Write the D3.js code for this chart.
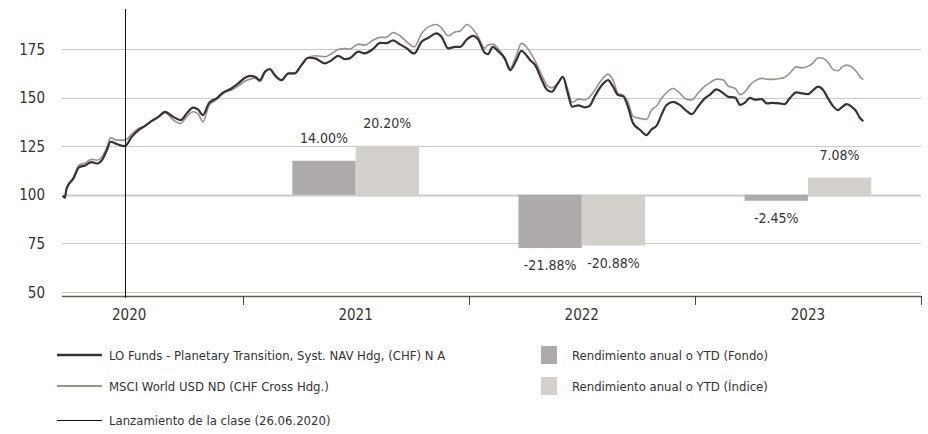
<!DOCTYPE html>
<html><head><meta charset="utf-8">
<script src="https://cdn.jsdelivr.net/npm/d3@7"></script>
<style>
html,body{margin:0;padding:0;background:#fff;}
svg{display:block;}
text{fill:#333;}
</style></head>
<body><svg id="c" width="928" height="434"></svg>
<script>
const dates = ["2020-03-17","2020-03-20","2020-03-23","2020-04-03","2020-04-12","2020-04-22","2020-05-02","2020-05-11","2020-05-19","2020-05-27",
"2020-06-02","2020-06-12","2020-06-25","2020-07-06","2020-07-17","2020-07-27","2020-08-07","2020-08-18","2020-08-29","2020-09-11",
"2020-09-23","2020-10-03","2020-10-13","2020-10-21","2020-10-29","2020-11-08","2020-11-20","2020-12-01","2020-12-14","2020-12-25",
"2021-01-05","2021-01-13","2021-01-21","2021-01-29","2021-02-06","2021-02-14","2021-02-22","2021-03-05","2021-03-16","2021-03-26",
"2021-04-06","2021-04-17","2021-04-28","2021-05-14","2021-05-25","2021-06-04","2021-06-15","2021-06-23","2021-07-07","2021-07-17",
"2021-07-31","2021-08-11","2021-08-21","2021-09-01","2021-09-12","2021-09-23","2021-10-05","2021-10-17","2021-10-28","2021-11-10",
"2021-11-18","2021-11-29","2021-12-10","2021-12-18","2021-12-29","2022-01-08","2022-01-16","2022-01-27","2022-02-01","2022-02-09",
"2022-02-17","2022-02-28","2022-03-09","2022-03-19","2022-03-27","2022-04-04","2022-04-10","2022-04-18","2022-04-29","2022-05-07",
"2022-05-15","2022-05-25","2022-06-02","2022-06-10","2022-06-17","2022-06-27","2022-07-07","2022-07-15","2022-07-23","2022-08-02",
"2022-08-14","2022-08-22","2022-08-30","2022-09-07","2022-09-15","2022-09-23","2022-10-04","2022-10-15","2022-10-23","2022-11-01",
"2022-11-08","2022-11-16","2022-11-27","2022-12-08","2022-12-19","2022-12-27","2023-01-06","2023-01-17","2023-01-25","2023-02-05",
"2023-02-16","2023-02-24","2023-03-07","2023-03-15","2023-03-23","2023-03-31","2023-04-08","2023-04-19","2023-04-27","2023-05-07",
"2023-05-18","2023-05-26","2023-06-03","2023-06-14","2023-06-22","2023-07-03","2023-07-11","2023-07-19","2023-07-27","2023-08-04",
"2023-08-12","2023-08-20","2023-08-26","2023-09-03","2023-09-11","2023-09-19","2023-09-24","2023-09-30"];
const fund = [99.5,98.4,103.3,108.4,114.1,115.1,116.8,116.1,117.8,123,
127.3,126.1,125,129.8,133.3,135.3,137.9,140.1,142.7,140.1,
138.4,141.9,144.8,143.9,141,147.3,149.6,152.7,154.7,157.3,
160.2,161.2,160.7,159,163.3,164.7,161.6,159,162.5,162.5,
166.7,170.5,170.2,167.6,169.3,171.5,169.8,170.2,173.6,172.8,
175.1,178.2,178,179.4,177.4,175.3,172.7,178.7,180.8,183,
181.3,175.3,176.1,176.1,179.9,181.8,180.1,173,172.4,176.1,
174,170.2,164.1,169.3,174.1,171.8,169.3,166.8,159,154.2,
153,157.3,160.7,152.2,145.3,146,145,145.7,150.4,155.6,
159,155.6,151.3,150.8,145.3,137,133.6,130.7,133.6,135.9,
141,146.1,147.8,146.1,143,141.5,145.3,149.6,151.4,154.2,
152.2,150.4,150,146.3,147.4,149.9,149,149.2,147,147.3,
147,146.6,149.6,152.7,152.2,151.8,153.9,155.6,153.9,149.6,
145.6,143.6,145,146.6,145.3,142.7,139.7,137.9];
const msci = [99.5,98.6,103.8,109,115.3,116.3,118.2,117.8,119.5,124.4,
129.3,128.1,128.1,131.2,134.2,135.3,137.9,140,142.2,138.5,
136.7,140.2,142.7,141.8,137.5,146,149,152.2,153.9,155.9,
158.5,159.5,160,158.2,162.8,164.5,161.2,158.8,162.3,162.5,
166.8,170.6,171.5,171,172.7,174.7,175.2,175,177.5,177,
179.6,181,181,183.5,181.8,178.7,176.1,183,186.4,187.6,
185.9,181.8,183.8,184.2,187.6,185.2,181.5,175.4,177,177.5,
175.4,170.7,165.3,171.8,177.9,176.2,173.5,169,161.5,156.5,
155,157.5,160.7,154,147.5,149.2,148.8,150.4,153.5,158.5,
162.1,159,152.2,151.3,148,140.5,139.3,138.8,143.5,146,
149.5,152.5,154.7,152.2,149,148.8,152.2,155.9,157.6,159.5,
159,155.9,154.7,151.5,153,156.4,158.6,159.9,159.5,159.4,
159.8,160.5,162.5,165.8,165.3,166.2,167.9,170.5,170.2,168,
164.5,163.8,165.5,166.7,165.8,163.3,161,159.2];

const yTicks = [50,75,100,125,150,175];
const yearLabels = ["2020","2021","2022","2023"];
const barYears = ["2021","2022","2023"];
const retFondo = [14.00,-21.88,-2.45];
const retIndice = [20.20,-20.88,7.08];
const launchDate = "2020-06-26";

const seriesNames = ["LO Funds - Planetary Transition, Syst. NAV Hdg, (CHF) N A","MSCI World USD ND (CHF Cross Hdg.)"];
const barNames = ["Rendimiento anual o YTD (Fondo)","Rendimiento anual o YTD (Índice)"];
const launchName = "Lanzamiento de la clase (26.06.2020)";

const C = {fund:"#3a3131", msci:"#9c928b", barF:"#aeaaa9", barI:"#d4d0cc", grid:"#cacaca", axis:"#5d5e45"};
const NARROW = "'DejaVu Sans Condensed','Liberation Sans Narrow','Arial Narrow',sans-serif";

const parse = d3.timeParse("%Y-%m-%d");
const svg = d3.select("#c");
const left = 62, right = 921;
const x = d3.scaleTime().domain([new Date(2020,0,1), new Date(2024,0,1)]).range([15.8, 921]);
const y = d3.scaleLinear().domain([50,175]).range([292,49]);
const yb = d3.scaleLinear().domain([-40,60]).range([292,49]);

// gridlines
svg.append("g").selectAll("line").data(yTicks).join("line")
  .attr("x1", left).attr("x2", right)
  .attr("y1", d=>Math.round(y(d))+0.5).attr("y2", d=>Math.round(y(d))+0.5)
  .attr("stroke", C.grid).attr("stroke-width", d=> d===100 ? 2 : 1);

// y labels
svg.append("g").selectAll("text").data(yTicks).join("text")
  .attr("x", 45).attr("y", d=>y(d)+5.5)
  .attr("text-anchor","end").attr("font-family", NARROW).attr("font-size",15)
  .text(d=>d);

// bars
const yrStart = s => new Date(+s,0,1), yrEnd = s => new Date(+s+1,0,1);
const mid = s => (x(yrStart(s))+x(yrEnd(s)))/2;
const bw = s => (x(yrEnd(s))-x(yrStart(s)))*0.28;
const bars = [];
barYears.forEach((yr,i)=>{
  bars.push({yr, v:retFondo[i], side:-1, c:C.barF});
  bars.push({yr, v:retIndice[i], side:0, c:C.barI});
});
svg.append("g").selectAll("rect").data(bars).join("rect")
  .attr("x", d=> mid(d.yr) + d.side*bw(d.yr))
  .attr("width", d=>bw(d.yr))
  .attr("y", d=> Math.min(yb(d.v), yb(0)))
  .attr("height", d=> Math.abs(yb(d.v)-yb(0)))
  .attr("fill", d=>d.c);
svg.append("g").selectAll("text").data(bars).join("text")
  .attr("x", d=> mid(d.yr) + d.side*bw(d.yr) + bw(d.yr)/2)
  .attr("y", d=> d.v>=0 ? yb(d.v)-18 : yb(d.v)+22)
  .attr("text-anchor","middle").attr("font-family", NARROW).attr("font-size",14)
  .text(d=> d.v.toFixed(2)+"%");

// x axis
svg.append("line").attr("x1",left).attr("x2",right).attr("y1",296.5).attr("y2",296.5)
  .attr("stroke",C.axis).attr("stroke-width",1.5);
svg.append("g").selectAll("line").data(yearLabels).join("line")
  .attr("x1", d=>Math.round(x(yrEnd(d)))+0.5).attr("x2", d=>Math.round(x(yrEnd(d)))+0.5)
  .attr("y1",296).attr("y2",305).attr("stroke","#444").attr("stroke-width",1);
svg.append("g").selectAll("text").data(yearLabels).join("text")
  .attr("x", d=>mid(d)).attr("y",320)
  .attr("text-anchor","middle").attr("font-family", NARROW).attr("font-size",15)
  .text(d=>d);

// lines
const line = vals => d3.line().x((d,i)=>x(parse(dates[i]))).y(d=>y(d)).curve(d3.curveMonotoneX)(vals);
svg.append("path").attr("d", line(msci)).attr("fill","none").attr("stroke",C.msci).attr("stroke-width",1.6);
svg.append("path").attr("d", line(fund)).attr("fill","none").attr("stroke",C.fund).attr("stroke-width",2.2);

// launch line
const lx = Math.round(x(parse(launchDate)))+0.5;
svg.append("line").attr("x1",lx).attr("x2",lx)
  .attr("y1",9).attr("y2",298).attr("stroke","#111").attr("stroke-width",1);

// legend
const lg = svg.append("g").attr("font-family", NARROW).attr("font-size",13);
const lrows = [
  {name:seriesNames[0], c:C.fund, w:2.5, y:355},
  {name:seriesNames[1], c:C.msci, w:2, y:386},
  {name:launchName, c:"#111", w:1, y:420.5}
];
lrows.forEach(r=>{
  lg.append("line").attr("x1",57).attr("x2",102).attr("y1",r.y).attr("y2",r.y).attr("stroke",r.c).attr("stroke-width",r.w);
  lg.append("text").attr("x",109).attr("y",r.y+4.5).text(r.name);
});
[{name:barNames[0], c:C.barF, y:355},{name:barNames[1], c:C.barI, y:386}].forEach(r=>{
  lg.append("rect").attr("x",541).attr("y",r.y-9).attr("width",16).attr("height",18).attr("fill",r.c);
  lg.append("text").attr("x",572).attr("y",r.y+4.5).text(r.name);
});
</script></body></html>
